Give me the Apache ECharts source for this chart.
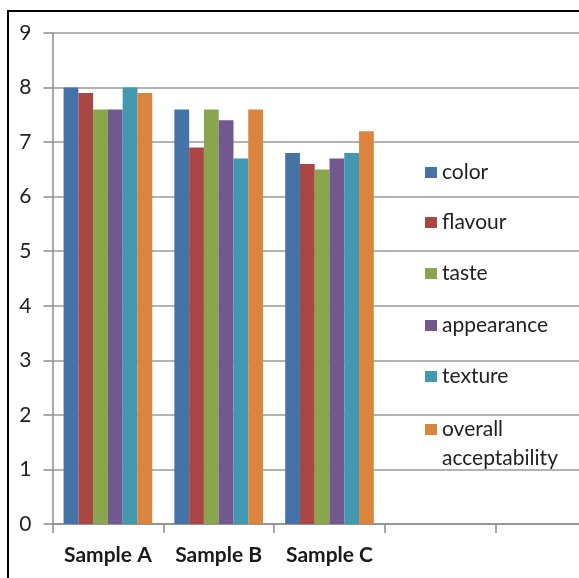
<!DOCTYPE html>
<html>
<head>
<meta charset="utf-8">
<script src="https://cdn.jsdelivr.net/npm/echarts@6/dist/echarts.min.js"></script>
<style>
  html, body { margin: 0; padding: 0; background: #ffffff; }
  #chart { width: 579px; height: 578px; }
</style>
</head>
<body>
<div id="chart"></div>
<script>
// Sensory scores per sample
const categories = ['Sample A', 'Sample B', 'Sample C', '', ''];
const seriesNames = ['color', 'flavour', 'taste', 'appearance', 'texture', 'overall acceptability'];
const color = [8.0, 7.6, 6.8];
const flavour = [7.9, 6.9, 6.6];
const taste = [7.6, 7.6, 6.5];
const appearance = [7.6, 7.4, 6.7];
const texture = [8.0, 6.7, 6.8];
const overallAcceptability = [7.9, 7.6, 7.2];
const yTicks = [0, 1, 2, 3, 4, 5, 6, 7, 8, 9];

const seriesValues = [color, flavour, taste, appearance, texture, overallAcceptability];
const palette = ['#4572A7', '#AA4643', '#89A54E', '#71588F', '#4198AF', '#DB843D'];
const font = 'Lato';

const chart = echarts.init(document.getElementById('chart'), null, { renderer: 'canvas' });

// One legend block per series so each entry sits on its own row
const legendTops = [157, 207, 258, 310, 361, 381];
const legends = seriesNames.map((name, i) => {
  const multi = name === 'overall acceptability';
  return {
    data: [name],
    orient: 'vertical',
    left: 420,
    top: legendTops[i],
    itemWidth: 12,
    itemHeight: 11,
    itemGap: 0,
    icon: 'rect',
    selectedMode: false,
    // the empty first line keeps the marker level with "overall"
    formatter: multi ? '\noverall\nacceptability' : '{name}',
    textStyle: multi
      ? { fontFamily: font, fontSize: 21, color: '#222', lineHeight: 29 }
      : { fontFamily: font, fontSize: 21, color: '#222' }
  };
});

chart.setOption({
  animation: false,
  color: palette,
  // the plot runs on past the right edge of the frame
  grid: { left: 52.5, width: 554, top: 33, bottom: 54, containLabel: false, outerBoundsMode: 'none' },
  legend: legends,
  xAxis: {
    type: 'category',
    data: categories,
    boundaryGap: true,
    axisLine: { lineStyle: { color: '#8c8c8c', width: 1.5 } },
    axisTick: { show: true, length: 9, lineStyle: { color: '#8c8c8c', width: 1.5 } },
    axisLabel: { interval: 0, hideOverlap: false, margin: 21, fontFamily: font, fontSize: 21, fontWeight: 'bold', color: '#1a1a1a' }
  },
  yAxis: {
    type: 'value',
    min: yTicks[0],
    max: yTicks[yTicks.length - 1],
    interval: 1,
    axisLine: { show: true, lineStyle: { color: '#8c8c8c', width: 1.5 } },
    axisTick: { show: true, length: 9, lineStyle: { color: '#8c8c8c', width: 1.5 } },
    axisLabel: { margin: 21, fontFamily: font, fontSize: 21, color: '#222' },
    splitLine: { show: true, lineStyle: { color: '#9a9a9a', width: 1.5 } }
  },
  series: seriesNames.map((name, i) => ({
    name: name,
    type: 'bar',
    data: seriesValues[i],
    barGap: '0%',
    barCategoryGap: '20%',
    itemStyle: { color: palette[i] }
  })),
  graphic: [{
    type: 'rect',
    silent: true,
    shape: { x: 8, y: 11, width: 1000, height: 1000 },
    style: { fill: 'none', stroke: '#000000', lineWidth: 2 },
    z: 100
  }]
});
</script>
</body>
</html>
